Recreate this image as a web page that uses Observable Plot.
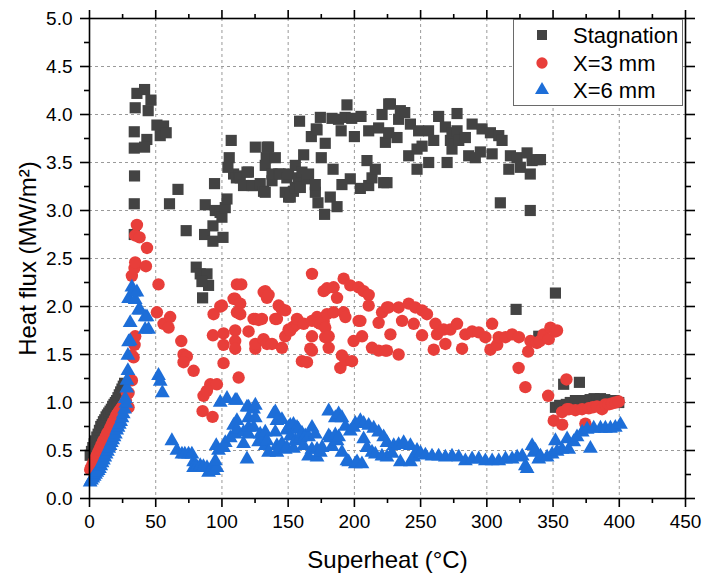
<!DOCTYPE html>
<html>
<head>
<meta charset="utf-8">
<script src="https://cdn.jsdelivr.net/npm/d3@7"></script>
<script src="https://cdn.jsdelivr.net/npm/@observablehq/plot@0.6"></script>
<style>
  body { margin: 0; background: #fff; }
  #wrap { position: relative; width: 706px; height: 578px; }
  #legend { position: absolute; left: 513px; top: 19px; }
</style>
</head>
<body>
<div id="wrap"></div>
<script>
// ---- data (Superheat °C, Heat flux MW/m²) ----
const xTicks = [0, 50, 100, 150, 200, 250, 300, 350, 400, 450];
const xMinor = [25, 75, 125, 175, 225, 275, 325, 375, 425];
const yTicks = [0, 0.5, 1, 1.5, 2, 2.5, 3, 3.5, 4, 4.5, 5];
const yMinor = [0.25, 0.75, 1.25, 1.75, 2.25, 2.75, 3.25, 3.75, 4.25, 4.75];
const seriesNames = ["Stagnation", "X=3 mm", "X=6 mm"];
const seriesColors = ["#434343", "#e83e3a", "#1d6ed8"];

const stagnation = [
  [0.5,0.45],[1.5,0.49],[2.5,0.53],[3.5,0.57],[4.5,0.6],[5.5,0.64],[6.5,0.67],[7.5,0.71],[8.5,0.75],[9.5,0.77],
  [10.5,0.8],[11.5,0.82],[12.5,0.85],[13.5,0.87],[14.5,0.89],[15.5,0.91],[16.5,0.93],[17.5,0.96],[18.5,0.98],[19.5,1.0],
  [20.5,1.02],[21.5,1.05],[22.5,1.08],[23.5,1.11],[24.5,1.14],[25.5,1.17],[26.5,1.2],
  [33.8,2.75],[33.8,3.07],[34,3.36],[33.8,3.65],[33.8,3.82],[34.5,4.07],[35.8,4.22],[41.6,4.26],[46.4,4.15],[44.3,4.04],
  [43.3,3.74],[41.6,3.66],[50.9,3.89],[55.9,3.88],[53.4,3.78],[57.9,3.81],[60.4,3.07],[66.8,3.22],[73,2.79],[80.6,2.41],
  [83.6,2.34],[88.7,2.34],[89.9,2.22],[84.9,2.26],[85.4,2.09],[87.4,3.06],[86.9,2.75],[93.2,2.68],[93.2,2.84],[94.4,3.28],
  [95,3.0],[98.6,2.98],[100,2.93],[100.8,2.72],[102.5,3.03],[103.8,3.12],[104.5,3.45],[105.5,3.55],[107,3.73],[108.8,3.38],
  [110.9,3.34],[112.6,3.36],[113.8,3.34],[116.3,3.26],[118.9,3.4],[120,3.4],[122.7,3.26],[123.9,3.26],[125.2,3.66],[128.9,3.28],
  [131.4,3.2],[132.7,3.19],[132.7,3.47],[134,3.66],[133.4,3.55],[135.2,3.66],[137.8,3.31],[137.8,3.38],[140.3,3.55],[142.8,3.38],
  [144,3.38],[147.8,3.19],[149,3.34],[150.3,3.14],[150.3,3.38],[151.6,3.14],[154,3.2],[155.4,3.47],[155.4,3.24],[157.8,3.34],
  [158.6,3.93],[159.2,3.24],[160.4,3.4],[161.7,3.58],[164.2,3.33],[165.4,3.38],[167.5,3.77],[170.5,3.19],[170.5,3.27],[171.2,3.85],
  [171.8,3.84],[172.5,3.08],[174.3,3.97],[175,3.55],[177.5,2.96],[178,3.7],[181.8,3.14],[183.1,3.96],[183.9,3.43],[186.9,3.04],
  [188,3.95],[190,3.83],[190.6,3.27],[193,3.97],[194.4,4.1],[196.9,3.33],[198,3.96],[200,3.77],[204.5,3.23],[205,3.98],
  [209.5,3.52],[210.8,3.83],[210.8,3.26],[213.3,3.34],[215.8,3.43],[218.3,3.86],[220.9,4.0],[222.1,3.29],[223.4,3.71],[224.6,3.29],
  [225.9,4.11],[225.9,3.81],[227.2,4.11],[232.2,3.76],[233.4,3.95],[234.7,4.04],[238,4.02],[241,3.57],[242.3,3.9],[247.3,3.64],
  [247.3,3.43],[248.5,3.83],[251.1,3.67],[256,3.83],[256.1,3.5],[259.9,3.73],[263.6,3.98],[268.7,3.87],[270,3.5],[272.5,3.73],
  [273.7,3.81],[273.7,3.64],[277.5,4.01],[277.5,3.83],[278.8,3.73],[283.8,3.76],[286.3,3.57],[288.9,3.9],[291.3,3.55],[295.1,3.61],
  [296.4,3.85],[302.7,3.81],[304,3.59],[309,3.78],[310.2,3.08],[311.5,3.73],[316.6,3.43],[317.8,3.57],[322.8,3.55],[325.3,3.45],
  [330.4,3.6],[332.8,3.38],[332.8,3.0],[334.2,3.52],[338,3.53],[340.5,3.53],
  [322.1,1.97],[339.2,1.69],[351.8,2.14],[351.8,0.95],[355,0.97],[358,1.19],[360,0.98],[363,1.0],[366.9,1.02],[369.9,1.21],
  [372,1.01],[375,1.02],[378,1.03],[381,1.04],[383,1.03],[385.8,1.04],[389,1.03],[393.5,1.02],[396,1.02],[399.6,1.0]
];

const x3mm = [
  [0.5,0.3],[1.5,0.33],[2.5,0.36],[3.5,0.39],[4.5,0.42],[5.5,0.45],[6.5,0.48],[7.5,0.51],[8.5,0.54],[9.5,0.57],
  [10.5,0.6],[11.5,0.62],[12.5,0.65],[13.5,0.68],[14.5,0.7],[15.5,0.73],[16.5,0.76],[17.5,0.79],[18.5,0.81],[19.5,0.84],
  [20.5,0.87],[21.5,0.89],[22.5,0.91],[23.5,0.93],[24.5,0.95],[25.5,0.97],[26.5,0.99],[27.5,1.02],
  [28.2,1.1],[29.5,0.95],[29.5,1.1],[32,1.23],[33.3,1.47],[34,1.6],[34.5,1.69],[32,1.49],
  [32,2.32],[34,2.4],[34.5,2.46],[34.5,2.74],[35.8,2.85],[37.8,2.72],[43.4,2.61],[42.6,2.42],[52.1,2.23],[50.9,1.94],
  [55.9,1.82],[60.9,1.89],[59.7,1.78],[69.3,1.64],[71,1.5],[73.5,1.48],[71,1.42],[78.6,1.33],[86.1,1.07],[88.6,1.12],
  [91.2,1.19],[96.2,1.19],[85.4,0.91],[92.9,0.85],[93.7,1.92],[98.7,2.0],[100,2.01],[93.2,1.7],[101.2,1.72],[101.2,1.6],
  [101.2,1.41],[108.8,2.08],[110,2.08],[111.3,2.23],[113.8,2.03],[111.3,1.94],[113.8,1.92],[110,1.75],[110,1.64],[110,1.56],
  [112.6,1.26],[114.6,2.23],[120.1,1.74],[123.9,1.87],[125.2,1.87],[127.7,1.86],[125.2,1.56],[125.2,1.61],[130.2,1.87],[131.4,1.66],
  [131.5,2.15],[132.7,2.16],[134,2.09],[135.2,2.12],[134,1.61],[137.8,1.61],[140.3,1.87],[141.5,1.87],[142.8,2.01],[145.3,1.97],
  [147.8,1.96],[145.3,1.57],[147.8,1.69],[150.3,1.76],[151.6,1.75],[154,1.79],[156.7,1.82],[156.7,1.87],[160.4,1.43],[161.7,1.82],
  [164.2,1.42],[166.7,1.56],[168,1.85],[168,1.69],[168,2.34],[168,1.54],[171.8,1.89],[173,1.83],[174.3,1.82],[176.8,2.16],
  [176.8,1.84],[178,1.78],[178,1.68],[179.3,2.19],[179.3,1.92],[180.6,1.57],[180.6,1.69],[184.3,2.2],[184.3,1.94],[186.9,2.09],
  [189.4,1.36],[190.6,1.49],[191.9,2.29],[191.9,1.94],[193.2,1.89],[193.2,1.44],[196.9,2.22],[198.2,1.43],[199.4,1.64],[203.2,2.2],
  [203.2,1.85],[204.5,1.85],[205.8,1.69],[207,2.16],[210.8,2.12],[210.8,2.01],[213.3,1.57],[218.3,1.83],[218.3,1.54],[220.9,1.94],
  [223.4,1.54],[224.6,1.99],[225.9,1.99],[227.2,1.71],[224.6,1.54],[233.4,1.99],[233.4,1.5],[236,1.85],[241,2.03],[244.8,1.82],
  [246,1.99],[251.1,1.96],[251.1,1.7],[254.8,1.92],[259.9,1.55],[261.2,1.82],[262.4,1.71],[267.4,1.76],[268.7,1.61],[272.5,1.76],
  [277.5,1.82],[281.3,1.56],[283.8,1.71],[288.9,1.74],[293.9,1.73],[298.9,1.68],[302.7,1.55],[304,1.82],[307.8,1.6],[309,1.68],
  [314.1,1.68],[319.1,1.71],[324.2,1.68],[324,1.36],[329.1,1.16],[331.2,1.53],[332.9,1.64],[337.8,1.62],[340,1.64],[342.8,1.71],
  [346.7,1.66],[348,1.78],[351.8,1.74],[353,1.75],[346.3,1.07],[350.5,0.81],[356.9,0.77],[356.8,0.9],[360.1,1.24],[360.6,0.93],
  [362,0.93],[366.9,0.92],[371.9,0.93],[374.4,0.78],[376.9,0.94],[380,0.95],[383.2,0.96],[387,0.93],[389.4,0.98],[392,0.98],
  [394.5,0.99],[397,1.0],[399.6,1.01]
];

const x6mm = [
  [0.5,0.17],[1.5,0.19],[2.5,0.21],[3.5,0.23],[4.5,0.25],[5.5,0.27],[6.5,0.29],[7.5,0.31],[8.5,0.34],[9.5,0.37],
  [10.5,0.4],[11.5,0.43],[12.5,0.46],[13.5,0.49],[14.5,0.52],[15.5,0.55],[16.5,0.58],[17.5,0.61],[18.5,0.64],[19.5,0.67],
  [20.5,0.71],[21.5,0.74],[22.5,0.77],[23.5,0.8],[24.5,0.84],[25.5,0.88],[26.5,0.93],[27.5,0.99],
  [27,1.04],[28.2,1.15],[28.3,1.23],[29,1.33],[29,1.49],[29.5,1.63],[30.7,1.64],[30.7,1.83],[29.5,2.08],[32,2.2],
  [33.2,2.15],[34.5,2.07],[35.8,2.15],[37,1.96],[38.3,1.96],[42,1.89],[43.4,1.89],[42,1.76],[44.6,1.76],[52.1,1.28],
  [53.4,1.22],[55,1.1],
  [62.2,0.6],[66,0.5],[69.8,0.46],[72,0.46],[74.8,0.46],[77.3,0.46],[78.6,0.38],[78.6,0.32],[81,0.33],[83.6,0.34],
  [86,0.33],[88.7,0.32],[89.9,0.27],[91.5,0.29],[93.7,0.29],[96.2,0.32],[95,0.39],[95.7,0.55],[97.4,0.5],[101.2,0.53],
  [102.5,0.58],[98.7,1.0],[103.8,1.04],[110,1.02],[111.3,1.02],[106.3,0.63],[108.8,0.76],[110,0.67],[111.3,0.72],[111.3,0.81],
  [116.3,0.69],[116.3,0.57],[118.9,0.41],[118.9,0.95],[120.1,0.95],[120.1,0.84],[120.1,0.74],[120.1,0.67],[123.9,0.93],[125.2,0.97],
  [125.2,0.84],[123.9,0.74],[127.7,0.59],[128.9,0.67],[130.2,0.6],[132.7,0.69],[132.7,0.55],[134,0.6],[135.2,0.48],[139,0.88],
  [140.3,0.9],[141.5,0.81],[140.3,0.69],[141.5,0.55],[141.5,0.48],[145.3,0.57],[145.3,0.82],[147.8,0.51],[149,0.53],[149,0.71],
  [150.3,0.74],[151.6,0.76],[151.6,0.65],[154,0.77],[154,0.52],[155.4,0.6],[156.7,0.74],[157.8,0.72],[159.2,0.63],[160.4,0.68],
  [161.7,0.55],[162.9,0.65],[165.4,0.64],[165.4,0.44],[167.9,0.51],[168,0.74],[170.5,0.67],[171.8,0.51],[171.8,0.43],[174.3,0.48],
  [175.6,0.53],[180.6,0.91],[180.6,0.65],[181.8,0.63],[183.1,0.54],[185.6,0.84],[185.6,0.66],[186.9,0.6],[188.1,0.88],[188.1,0.64],
  [190.6,0.84],[190.6,0.48],[193.2,0.75],[194.4,0.39],[195.7,0.38],[196.9,0.7],[199.4,0.74],[200.7,0.78],[200.7,0.36],[202,0.38],
  [204.5,0.81],[205.7,0.36],[207,0.78],[207,0.62],[209.5,0.53],[210.8,0.76],[213.3,0.48],[214.6,0.73],[215.8,0.46],[218.3,0.69],
  [220.8,0.44],[222.1,0.64],[224.6,0.43],[224.6,0.58],[228.4,0.47],[229.7,0.55],[233.4,0.56],[234.7,0.38],[237.2,0.58],[242.3,0.55],
  [242.3,0.38],[244.8,0.43],[247.3,0.5],[250,0.47],[253.6,0.45],[258.6,0.44],[263.6,0.44],[268.7,0.43],[273.7,0.44],[278.8,0.43],
  [283.8,0.39],[288.9,0.41],[293.9,0.41],[298.9,0.39],[304,0.39],[309,0.39],[314.1,0.41],[319.1,0.41],[322.9,0.43],[326.7,0.44],
  [329.1,0.34],[330.4,0.31],[334.2,0.55],[335.5,0.48],[336.7,0.5],[339.2,0.41],[340.5,0.44],[345.5,0.43],[349.3,0.46],[351.8,0.6],
  [353,0.49],[356.8,0.51],[360.6,0.62],[361.8,0.51],[365.6,0.59],[368.1,0.64],[372,0.69],[375.7,0.72],[378.2,0.52],[380.7,0.73],
  [385.8,0.73],[389.5,0.73],[393.3,0.73],[397,0.74],[400.9,0.77]
];

const xLabel = "Superheat (°C)";
const yLabel = "Heat flux (MW/m²)";

// ---- chart ----
const font = "'Liberation Sans', Arial, Helvetica, sans-serif";
const blank = () => "";

const chart = Plot.plot({
  width: 706,
  height: 578,
  marginLeft: 89,
  marginRight: 21,
  marginTop: 18,
  marginBottom: 80,
  style: { fontFamily: font, background: "#fff", color: "#000", overflow: "visible" },
  x: { domain: [0, 450] },
  y: { domain: [0, 5] },
  marks: [
    Plot.gridX(xTicks.slice(1, -1), { stroke: "#9a9a9a", strokeOpacity: 1, strokeDasharray: "3,3", strokeWidth: 1 }),
    Plot.gridY(yTicks.slice(1, -1), { stroke: "#9a9a9a", strokeOpacity: 1, strokeDasharray: "3,3", strokeWidth: 1 }),
    Plot.dot(stagnation, { x: d => d[0], y: d => d[1], symbol: "square", r: 6.3, fill: seriesColors[0], stroke: "none" }),
    Plot.dot(x3mm, { x: d => d[0], y: d => d[1], symbol: "circle", r: 6.2, fill: seriesColors[1], stroke: "none" }),
    Plot.dot(x6mm, { x: d => d[0], y: d => d[1], symbol: "triangle", r: 5.5, fill: seriesColors[2], stroke: "none" }),
    Plot.frame({ stroke: "#000", strokeWidth: 1.6 }),
    Plot.axisX(xTicks, { anchor: "bottom", tickSize: 9, tickPadding: 7, fontSize: 19, strokeWidth: 1.6, label: null, tickFormat: d => String(d) }),
    Plot.axisX(xMinor, { anchor: "bottom", tickSize: 5, strokeWidth: 1.6, label: null, tickFormat: blank }),
    Plot.axisX(xTicks, { anchor: "top", tickSize: 9, strokeWidth: 1.6, label: null, tickFormat: blank }),
    Plot.axisX(xMinor, { anchor: "top", tickSize: 5, strokeWidth: 1.6, label: null, tickFormat: blank }),
    Plot.axisY(yTicks, { anchor: "left", tickSize: 9, tickPadding: 8, fontSize: 19, strokeWidth: 1.6, label: null, tickFormat: d3.format(".1f") }),
    Plot.axisY(yMinor, { anchor: "left", tickSize: 5, strokeWidth: 1.6, label: null, tickFormat: blank }),
    Plot.axisY(yTicks, { anchor: "right", tickSize: 9, strokeWidth: 1.6, label: null, tickFormat: blank }),
    Plot.axisY(yMinor, { anchor: "right", tickSize: 5, strokeWidth: 1.6, label: null, tickFormat: blank }),
    Plot.text([xLabel], { frameAnchor: "bottom", dy: 62, lineAnchor: "middle", textAnchor: "middle", fontSize: 24, fill: "#000" }),
    Plot.text([yLabel], { frameAnchor: "middle", dx: -359, rotate: -90, lineAnchor: "middle", textAnchor: "middle", fontSize: 24, fill: "#000" })
  ]
});

const wrap = document.getElementById("wrap");
wrap.appendChild(chart);

// ---- legend (inside plot, top-right) ----
const lw = 170, lh = 87;
const legend = d3.create("svg").attr("id", "legend").attr("width", lw).attr("height", lh)
  .style("font-family", font);
legend.append("rect").attr("x", 0.5).attr("y", 0.5).attr("width", lw - 1).attr("height", lh - 1)
  .attr("fill", "#fff").attr("stroke", "#6a6a6a").attr("stroke-width", 1);
const symTypes = [d3.symbolSquare, d3.symbolCircle, d3.symbolTriangle];
const symSizes = [100, 100, 85];
const rowY = [16, 44, 71];
seriesNames.forEach((name, i) => {
  legend.append("path")
    .attr("d", d3.symbol(symTypes[i], symSizes[i])())
    .attr("transform", `translate(29,${rowY[i]})`)
    .attr("fill", seriesColors[i]);
  legend.append("text")
    .attr("x", 60).attr("y", rowY[i]).attr("dy", "0.35em")
    .attr("font-size", 22).attr("fill", "#000")
    .text(name);
});
wrap.appendChild(legend.node());
</script>
</body>
</html>
